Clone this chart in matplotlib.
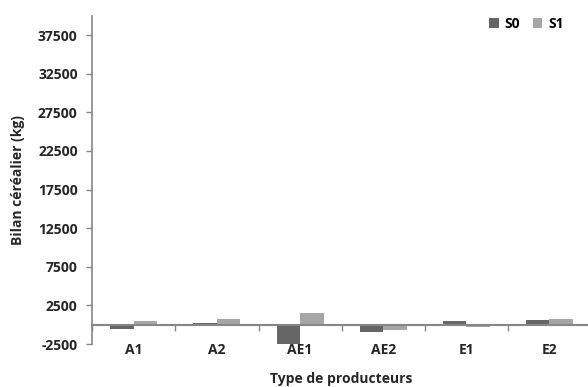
import numpy as np
import matplotlib
matplotlib.use("Agg")
import matplotlib.pyplot as plt

# données
categories = ["A1", "A2", "AE1", "AE2", "E1", "E2"]
s0 = [-500, 250, -2600, -900, 450, 550]
s1 = [500, 750, 1500, -700, -350, 750]
yticks = [-2500, 2500, 7500, 12500, 17500, 22500, 27500, 32500, 37500]

plt.rcParams['font.family'] = ['Open Sans', 'DejaVu Sans']
plt.rcParams['font.weight'] = 'bold'

axis_col = '#868686'
txt_col = '#262626'
fs = 10
fig = plt.figure(figsize=(5.88, 3.87), dpi=100)
ax = fig.add_axes([0.157, 0.111, 0.848, 0.848])

x = np.arange(len(categories))
w = 0.283
ax.bar(x - w / 2, s0, w, color='#666666', label='S0', zorder=2)
ax.bar(x + w / 2, s1, w, color='#a6a6a6', label='S1', zorder=2)

ax.set_xlim(-0.5, len(categories) - 0.5)
ax.set_ylim(-2500, 40000)

# axe des y
ax.set_yticks(yticks)
ax.set_yticklabels([str(t) for t in yticks], fontsize=fs, fontweight='bold', color=txt_col)
ax.tick_params(axis='y', length=4.5, color=axis_col, width=1, pad=6)
ax.set_ylabel('Bilan céréalier (kg)', fontsize=fs, fontweight='bold', color=txt_col)
ax.yaxis.set_label_coords(-0.135, 0.5)

# axe des x placé à zéro
for s in ['top', 'right']:
    ax.spines[s].set_visible(False)
ax.spines['left'].set_color(axis_col)
ax.spines['left'].set_linewidth(1.2)
ax.spines['bottom'].set_position(('data', 0))
ax.spines['bottom'].set_color(axis_col)
ax.spines['bottom'].set_linewidth(1.5)
ax.spines['bottom'].set_zorder(3)

ax.set_xticks(x)
ax.set_xticklabels(categories, fontsize=fs, fontweight='bold', color=txt_col)
ax.tick_params(axis='x', which='major', length=0, pad=13)
ax.set_xticks(np.arange(len(categories) + 1) - 0.5, minor=True)
ax.tick_params(axis='x', which='minor', length=4, color=axis_col, width=1)
ax.set_xlabel('Type de producteurs', fontsize=fs, fontweight='bold', color=txt_col)
ax.xaxis.set_label_coords(0.5, -0.085)

leg = ax.legend(loc='upper right', bbox_to_anchor=(0.97, 1.035), ncol=2, frameon=False,
                fontsize=fs, handlelength=0.7, handleheight=0.7, handletextpad=0.4,
                columnspacing=0.9)
for t in leg.get_texts():
    t.set_fontweight('bold')

fig.savefig('out.png', dpi=100)
